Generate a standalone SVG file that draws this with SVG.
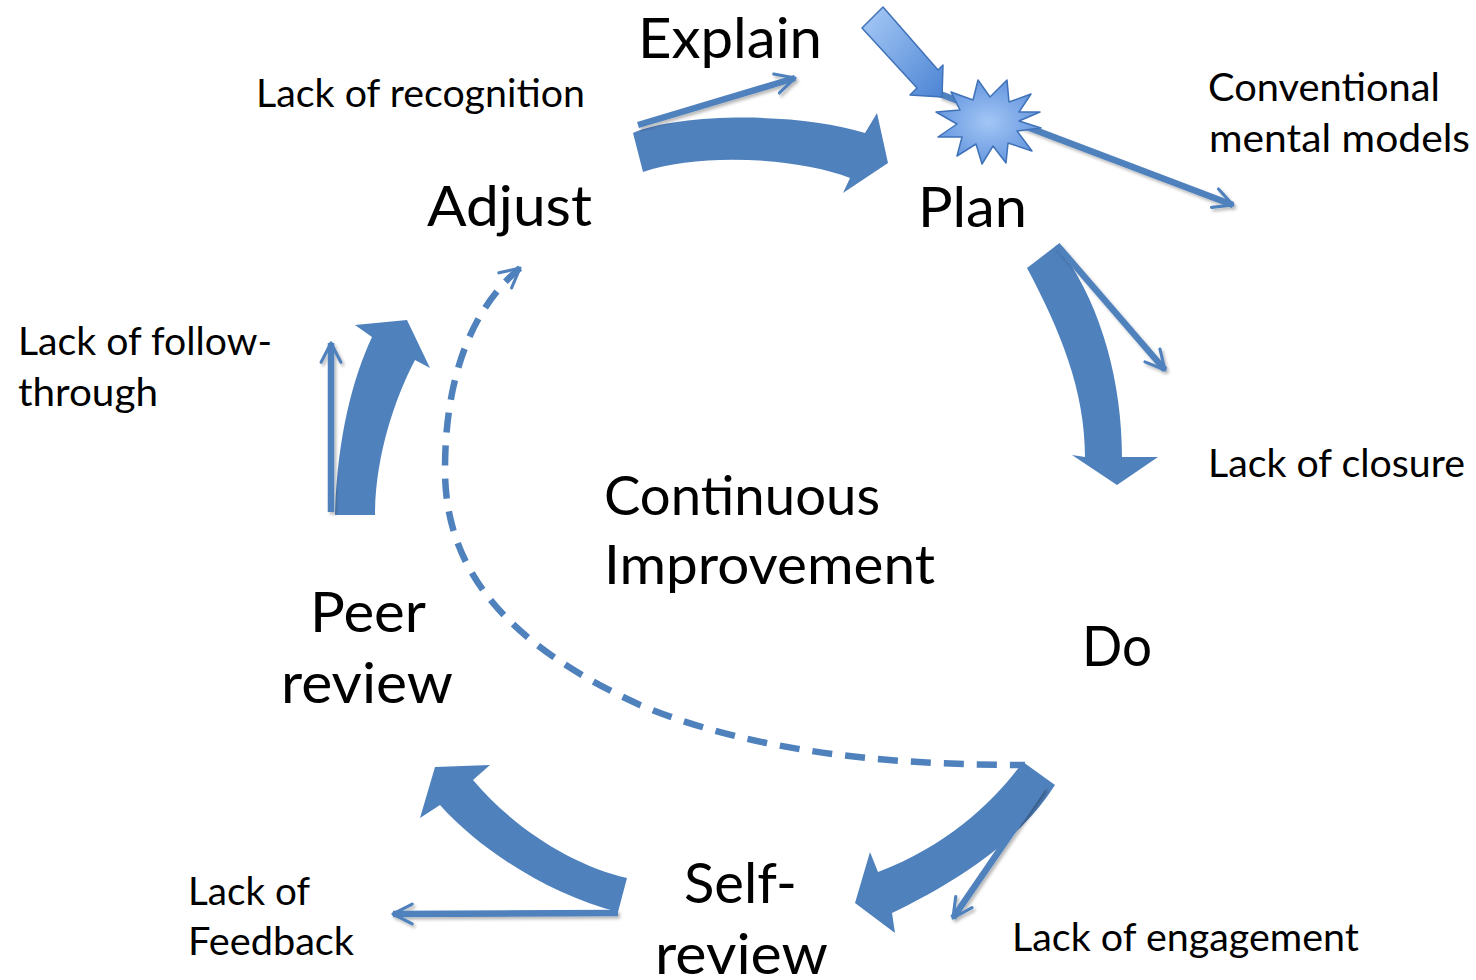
<svg xmlns="http://www.w3.org/2000/svg" width="1476" height="980" viewBox="0 0 1476 980">
  <defs>
    <style>
      .lbl { font-family: Lato, "Open Sans", "Liberation Sans", sans-serif; fill: #000; }
      .big { font-size: 57px; }
      .mid { font-size: 54px; }
      .small { font-size: 39px; }
      .band { fill: #4F81BD; }
      .thin { fill: none; stroke: #4F81BD; stroke-width: 6.5; marker-end: url(#open); filter: url(#soft); }
      .dash { fill: none; stroke: #4F81BD; stroke-width: 6.5; stroke-dasharray: 20 13; marker-start: url(#open); }
    </style>
    <marker id="open" viewBox="0 0 10 10" refX="8.6" refY="5" markerWidth="4" markerHeight="4" orient="auto-start-reverse" markerUnits="strokeWidth">
      <path d="M1.2,1.2 L8.6,5 L1.2,8.8" fill="none" stroke="#4F81BD" stroke-width="1.2" stroke-linecap="round" stroke-linejoin="round"/>
    </marker>
    <filter id="soft" filterUnits="userSpaceOnUse" x="0" y="0" width="1476" height="980">
      <feDropShadow dx="2" dy="2.5" stdDeviation="1.6" flood-color="#000" flood-opacity="0.28"/>
    </filter>
    <linearGradient id="blockFill" x1="0" y1="0" x2="1" y2="1">
      <stop offset="0" stop-color="#A9CBF7"/>
      <stop offset="1" stop-color="#4C84D4"/>
    </linearGradient>
    <radialGradient id="burstFill" cx="0.5" cy="0.5" r="0.6">
      <stop offset="0" stop-color="#A3C6F6"/>
      <stop offset="1" stop-color="#5B8FDA"/>
    </radialGradient>
  </defs>

  <!-- cycle connectors -->
  <g id="connectors">
    <!-- Adjust to Plan -->
    <path class="band" d="M633,133 C680,113 800,112 865,133 L877,113 L888,163 L843,193 L850,178 C800,158 700,152 643,172 Z"/>
    <!-- Plan to Do -->
    <path class="band" d="M1027,268 C1060,330 1085,390 1085,457 L1072,455 L1117,485 L1158,457 L1122,457 C1122,380 1100,300 1057,245 Z"/>
    <!-- Do to Self-review -->
    <path class="band" d="M1023,762 C995,800 950,845 878,872 L870,852 L855,903 L895,933 L892,913 C960,880 1020,840 1055,785 Z"/>
    <!-- Self-review to Peer review -->
    <path class="band" d="M627,878 C575,866 515,830 473,780 L490,765 L435,767 L420,818 L440,805 C480,850 550,895 618,912 Z"/>
    <!-- Peer review to Adjust -->
    <path class="band" d="M335,515 C337,440 352,380 372,337 L355,325 L407,320 L430,368 L415,360 C394,400 375,458 375,515 Z"/>

    <!-- side branches -->
    <path class="thin" d="M638,125 L795,78"/>
    <path class="thin" d="M1057,245 L1165,370"/>
    <path class="thin" d="M1043,787 L953,918"/>
    <path class="thin" d="M618,913 L393,914"/>
    <path class="thin" d="M331,512 L331,343"/>
    <path class="thin" d="M940,94 L1233,205"/>

    <!-- shortcut from Do back to Adjust -->
    <path class="dash" d="M520,268 C470,310 445,380 445,470 C445,580 520,650 640,705 C760,755 900,765 1025,765"/>
  </g>

  <!-- disruption marker over Plan -->
  <g id="disruption">
    <polygon points="883,7 938,70 943,65 942,97 910,95 917,88 862,28" fill="url(#blockFill)" stroke="#3F72B8" stroke-width="1.5" stroke-linejoin="round"/>
    <polygon points="1041,128 1017,131 1032,151 1008,143 1006,163 993,146 982,164 976,144 957,156 962,137 938,137 957,124 936,112 960,110 951,92 973,100 978,80 990,97 1007,80 1009,102 1031,94 1019,112 1040,112 1019,121" fill="url(#burstFill)" stroke="#3F72B8" stroke-width="1.5" stroke-linejoin="round"/>
  </g>

  <g id="node-explain">
    <text class="lbl big" x="638" y="58" textLength="184" lengthAdjust="spacingAndGlyphs">Explain</text>
  </g>
  <g id="node-plan">
    <text class="lbl big" x="918" y="227" textLength="109" lengthAdjust="spacingAndGlyphs">Plan</text>
  </g>
  <g id="node-do">
    <text class="lbl big" x="1082" y="666" textLength="70" lengthAdjust="spacingAndGlyphs">Do</text>
  </g>
  <g id="node-self-review">
    <text class="lbl big" x="684" y="903" textLength="113" lengthAdjust="spacingAndGlyphs">Self-</text>
    <text class="lbl big" x="655" y="974" textLength="173" lengthAdjust="spacingAndGlyphs">review</text>
  </g>
  <g id="node-peer-review">
    <text class="lbl big" x="310" y="632" textLength="116" lengthAdjust="spacingAndGlyphs">Peer</text>
    <text class="lbl big" x="281" y="703" textLength="172" lengthAdjust="spacingAndGlyphs">review</text>
  </g>
  <g id="node-adjust">
    <text class="lbl big" x="427" y="226" textLength="165" lengthAdjust="spacingAndGlyphs">Adjust</text>
  </g>
  <g id="node-center">
    <text class="lbl mid" x="604" y="515" textLength="276" lengthAdjust="spacingAndGlyphs">Continuous</text>
    <text class="lbl mid" x="604" y="584" textLength="331" lengthAdjust="spacingAndGlyphs">Improvement</text>
  </g>

  <g id="note-recognition">
    <text class="lbl small" x="256" y="107" textLength="329" lengthAdjust="spacingAndGlyphs">Lack of recognition</text>
  </g>
  <g id="note-mental-models">
    <text class="lbl small" x="1208" y="101" textLength="232" lengthAdjust="spacingAndGlyphs">Conventional</text>
    <text class="lbl small" x="1209" y="152" textLength="261" lengthAdjust="spacingAndGlyphs">mental models</text>
  </g>
  <g id="note-closure">
    <text class="lbl small" x="1208" y="477" textLength="257" lengthAdjust="spacingAndGlyphs">Lack of closure</text>
  </g>
  <g id="note-engagement">
    <text class="lbl small" x="1012" y="951" textLength="347" lengthAdjust="spacingAndGlyphs">Lack of engagement</text>
  </g>
  <g id="note-feedback">
    <text class="lbl small" x="188" y="905" textLength="122" lengthAdjust="spacingAndGlyphs">Lack of</text>
    <text class="lbl small" x="188" y="955" textLength="166" lengthAdjust="spacingAndGlyphs">Feedback</text>
  </g>
  <g id="note-follow-through">
    <text class="lbl small" x="18" y="355" textLength="254" lengthAdjust="spacingAndGlyphs">Lack of follow-</text>
    <text class="lbl small" x="18" y="406" textLength="140" lengthAdjust="spacingAndGlyphs">through</text>
  </g>
</svg>
